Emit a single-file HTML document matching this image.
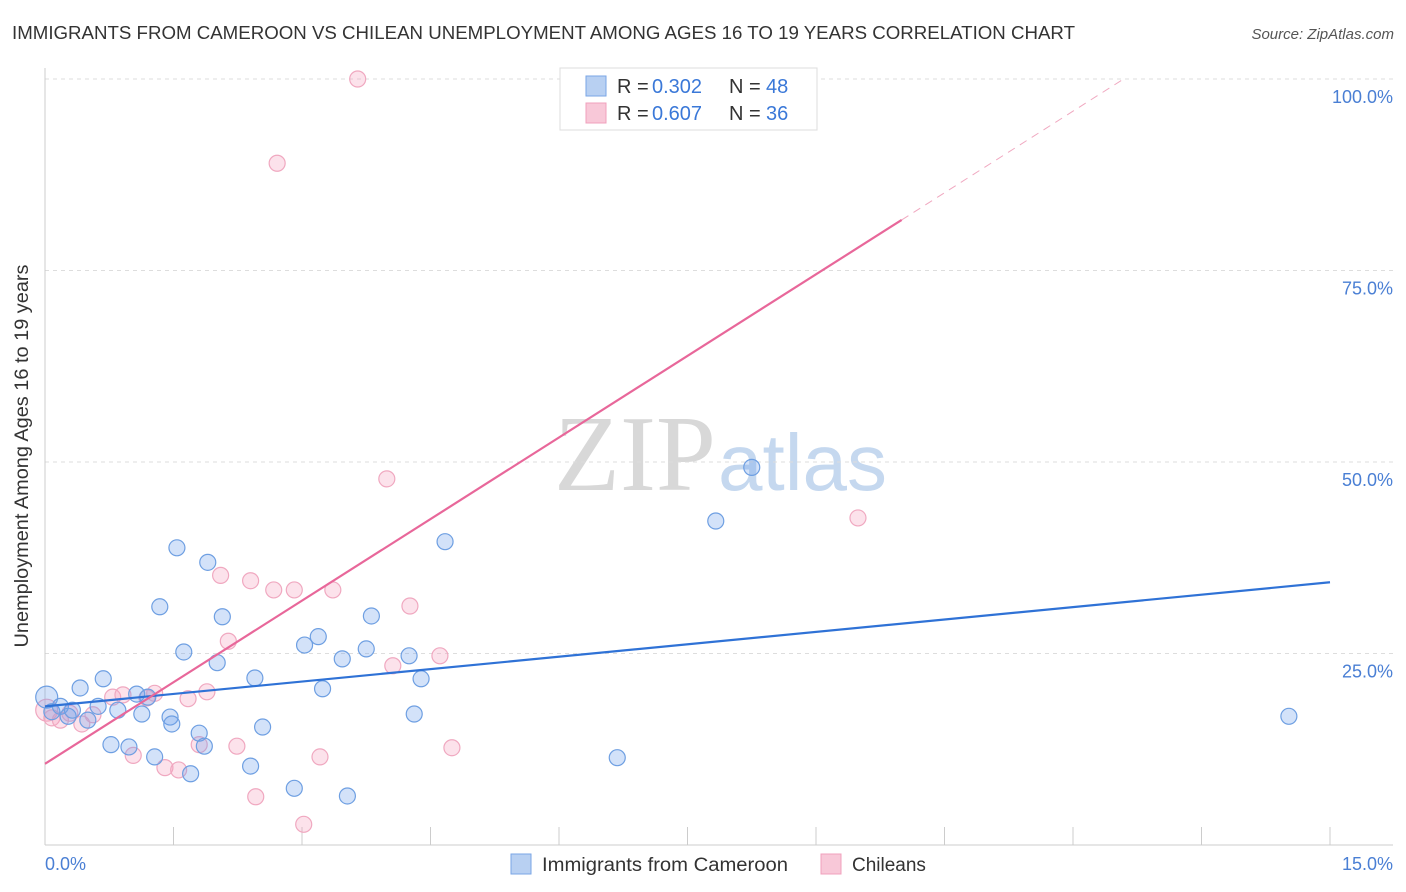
<!DOCTYPE html>
<html><head><meta charset="utf-8"><style>
body{margin:0;background:#fff;font-family:"Liberation Sans",sans-serif;}
#wrap{position:relative;width:1406px;height:892px;overflow:hidden;}
</style></head><body>
<div id="wrap">
<svg id="svg" width="1406" height="892" xmlns="http://www.w3.org/2000/svg">
<text x="12" y="39" font-size="18" fill="#333" textLength="1063" lengthAdjust="spacingAndGlyphs">IMMIGRANTS FROM CAMEROON VS CHILEAN UNEMPLOYMENT AMONG AGES 16 TO 19 YEARS CORRELATION CHART</text>
<text x="1394" y="39" font-size="15" fill="#555" text-anchor="end" font-style="italic">Source: ZipAtlas.com</text>
<text x="716" y="490" font-size="108" fill="#d8d8d8" text-anchor="end" font-family="Liberation Serif,serif">ZIP</text>
<text x="718" y="490" font-size="80" fill="#c5d8ef">atlas</text>
<g id="grid"></g>
<g id="axes"></g>
<g id="pts"></g>
<g id="lines"></g>
<text x="28" y="456" font-size="19" fill="#333" text-anchor="middle" transform="rotate(-90 28 456)" textLength="383" lengthAdjust="spacingAndGlyphs">Unemployment Among Ages 16 to 19 years</text>
<text x="45" y="870" font-size="18" fill="#4a7fd4">0.0%</text>
<text x="1393" y="870" font-size="18" fill="#4a7fd4" text-anchor="end">15.0%</text>
<g>
<rect x="560" y="68" width="257" height="62" fill="#fff" stroke="#ddd"/>
<rect x="586" y="76" width="20" height="20" fill="#b8d0f2" stroke="#7aa6e6"/>
<rect x="586" y="103" width="20" height="20" fill="#f8c8d8" stroke="#f0a0bc"/>
<text x="617" y="93" font-size="20" fill="#333">R =</text>
<text x="652" y="93" font-size="20" fill="#3a78d8">0.302</text>
<text x="729" y="93" font-size="20" fill="#333">N =</text>
<text x="766" y="93" font-size="20" fill="#3a78d8">48</text>
<text x="617" y="120" font-size="20" fill="#333">R =</text>
<text x="652" y="120" font-size="20" fill="#3a78d8">0.607</text>
<text x="729" y="120" font-size="20" fill="#333">N =</text>
<text x="766" y="120" font-size="20" fill="#3a78d8">36</text>
</g>
<g>
<rect x="511" y="854" width="20" height="20" fill="#b8d0f2" stroke="#7aa6e6"/>
<text x="542" y="871" font-size="19" fill="#333" textLength="246" lengthAdjust="spacingAndGlyphs">Immigrants from Cameroon</text>
<rect x="821" y="854" width="20" height="20" fill="#f8c8d8" stroke="#f0a0bc"/>
<text x="852" y="871" font-size="19" fill="#333">Chileans</text>
</g>
</svg>
</div>
<script>
const yTicks=[25,50,75,100];
const yTickLabels=["25.0%","50.0%","75.0%","100.0%"];
const blueX=[0.02,0.08,0.18,0.27,0.32,0.41,0.50,0.62,0.68,0.77,0.85,0.98,1.07,1.13,1.20,1.28,1.34,1.46,1.48,1.54,1.62,1.70,1.80,1.86,1.90,2.01,2.07,2.40,2.45,2.54,2.91,3.03,3.19,3.24,3.47,3.53,3.75,3.81,4.25,4.31,4.39,4.67,6.68,7.83,8.25,14.52];
const blueY=[19.3,17.4,18.1,16.8,17.6,20.5,16.3,18.1,21.7,13.1,17.6,12.8,19.7,17.1,19.3,11.5,31.1,16.7,15.8,38.8,25.2,9.3,14.6,12.9,36.9,23.8,29.8,10.3,21.8,15.4,7.4,26.1,27.2,20.4,24.3,6.4,25.6,29.9,24.7,17.1,21.7,39.6,11.4,42.3,49.3,16.8];
const pinkX=[0.02,0.08,0.18,0.29,0.43,0.56,0.79,0.91,1.03,1.19,1.28,1.40,1.56,1.67,1.80,1.89,2.05,2.14,2.24,2.40,2.46,2.67,2.71,2.91,3.02,3.21,3.36,3.65,3.99,4.06,4.26,4.61,4.75,8.81,9.49];
const pinkY=[17.6,16.6,16.3,17.2,15.8,17.0,19.3,19.6,11.7,19.2,19.8,10.1,9.8,19.1,13.1,20.0,35.2,26.6,12.9,34.5,6.3,33.3,89.0,33.3,2.7,11.5,33.3,100,47.8,23.4,31.2,24.7,12.7,100,42.7];
const blueTrend=[18.1,1.08];
const pinkTrend=[10.6,7.1];
const pinkSolidEnd=10.0;

const NS="http://www.w3.org/2000/svg";
const xs=v=>45+v*(1285/15);
const ys=v=>845-v*(766/100);
function mk(tag,attrs,parent){const e=document.createElementNS(NS,tag);for(const k in attrs)e.setAttribute(k,attrs[k]);parent.appendChild(e);return e;}
const grid=document.getElementById('grid'),axes=document.getElementById('axes'),pts=document.getElementById('pts'),lines=document.getElementById('lines');
yTicks.forEach((t,i)=>{
  const l=mk('line',{x1:45,x2:1393,y1:ys(t),y2:ys(t),stroke:'#ddd','stroke-dasharray':'4 4'},grid);
  
  
  const tx=mk('text',{x:1393,y:ys(t)+24,'font-size':18,fill:'#4a7fd4','text-anchor':'end'},grid);
  tx.textContent=yTickLabels[i];
  
  
});
const ya=mk('line',{x1:45,x2:45,y1:68,y2:845,stroke:'#ccc'},axes);


const xa=mk('line',{x1:45,x2:1393,y1:845,y2:845,stroke:'#ccc'},axes);


for(let i=0;i<=10;i++){
  const t=mk('line',{x1:xs(i*1.5),x2:xs(i*1.5),y1:827,y2:845,stroke:'#ccc'},axes);
  
  
}
function dots(X,Y,fill,stroke,name){
  X.forEach((x,i)=>{
    const c=mk('circle',{cx:xs(x),cy:ys(Y[i]),r:(i===0?11:8),fill:fill,stroke:stroke,'stroke-width':1.2},pts);
    
    
  });
}
dots(pinkX,pinkY,'rgba(245,160,190,0.3)','#f0a8c0','point-chileans');
dots(blueX,blueY,'rgba(110,160,235,0.3)','#6e9fe2','point-cameroon');
const bl=mk('line',{x1:xs(0),y1:ys(blueTrend[0]),x2:xs(15),y2:ys(blueTrend[0]+blueTrend[1]*15),stroke:'#2f72d6','stroke-width':2.2},lines);


const pl=mk('line',{x1:xs(0),y1:ys(pinkTrend[0]),x2:xs(pinkSolidEnd),y2:ys(pinkTrend[0]+pinkTrend[1]*pinkSolidEnd),stroke:'#e8679a','stroke-width':2.2},lines);


const xEnd=(100-pinkTrend[0])/pinkTrend[1];
const pd=mk('line',{x1:xs(pinkSolidEnd),y1:ys(pinkTrend[0]+pinkTrend[1]*pinkSolidEnd),x2:xs(xEnd),y2:ys(100),stroke:'#f0a8c0','stroke-width':1,'stroke-dasharray':'8 6'},lines);


</script>
</body></html>
